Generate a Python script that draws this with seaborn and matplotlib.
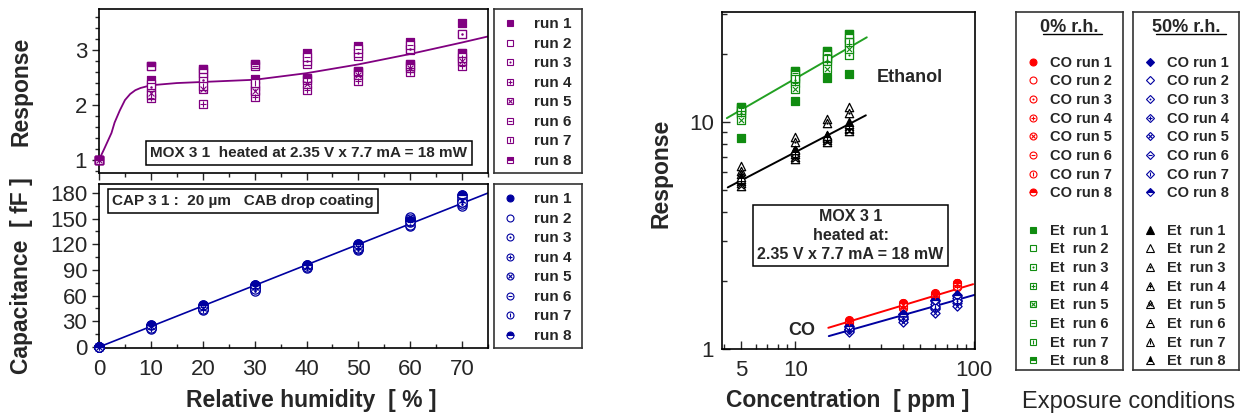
import numpy as np
import pandas as pd
import matplotlib
matplotlib.use('Agg')
import matplotlib.pyplot as plt
import seaborn as sns
from matplotlib.lines import Line2D
from matplotlib.markers import MarkerStyle
from matplotlib.legend_handler import HandlerTuple
from matplotlib.ticker import MultipleLocator, NullFormatter

# ---------------- data ----------------
humidity = [0, 10, 20, 30, 40, 50, 60, 70]
run_labels = ['run 1', 'run 2', 'run 3', 'run 4', 'run 5', 'run 6', 'run 7', 'run 8']

# MOX response vs humidity, one list per run
mox_runs = [
    [1.0, 2.45, 2.62, 2.48, 2.94, 3.07, 3.15, 3.50],
    [1.0, 2.38, 2.50, 2.35, 2.75, 2.90, 3.00, 3.30],
    [1.0, 2.32, 2.45, 2.28, 2.80, 2.95, 3.02, 3.30],
    [1.0, 2.12, 2.02, 2.15, 2.28, 2.44, 2.60, 2.72],
    [1.0, 2.22, 2.30, 2.25, 2.38, 2.55, 2.68, 2.80],
    [1.0, 2.72, 2.58, 2.72, 2.88, 3.02, 3.10, 2.88],
    [1.0, 2.18, 2.35, 2.40, 2.45, 2.60, 2.72, 2.85],
    [1.0, 2.72, 2.65, 2.75, 2.50, 2.62, 2.75, 2.95],
]
mox_fit_x = [0, 1, 2.4, 3, 4, 5, 6, 7, 8, 10, 15, 20, 30, 40, 50, 60, 70, 75]
mox_fit_y = [1.0, 1.2, 1.49, 1.68, 1.9, 2.09, 2.2, 2.27, 2.31, 2.36, 2.40, 2.42, 2.46, 2.58, 2.74, 2.93, 3.14, 3.25]

# capacitance vs humidity
cap_runs = [
    [0, 25, 48, 72, 95, 119, 150, 177],
    [0, 22, 45, 67, 93, 114, 141, 165],
    [0, 23, 44, 66, 94, 113, 143, 167],
    [0, 21, 43, 69, 92, 115, 148, 170],
    [0, 24, 46, 70, 95, 117, 152, 172],
    [0, 25, 47, 71, 96, 118, 146, 174],
    [0, 22, 44, 68, 94, 116, 150, 169],
    [0, 26, 49, 73, 96, 120, 147, 178],
]
cap_fit_x = [0, 75]
cap_fit_y = [0, 180]

# right panel: response vs concentration
et_conc = [5, 10, 15, 20]
co_conc = [20, 40, 60, 80]
et0_runs = [
    [8.5, 12.4, 15.6, 16.2],
    [11.2, 16.0, 19.6, 23.0],
    [11.0, 15.3, 18.8, 19.8],
    [10.8, 14.8, 18.5, 22.0],
    [10.2, 14.0, 17.2, 21.0],
    [11.5, 16.5, 20.0, 23.5],
    [11.3, 15.6, 19.2, 22.5],
    [11.7, 16.7, 20.6, 24.5],
]
et50_runs = [
    [5.5, 7.6, 8.8, 10.0],
    [6.4, 8.6, 10.3, 11.6],
    [6.1, 8.2, 9.9, 11.0],
    [5.4, 7.0, 8.3, 9.3],
    [5.25, 6.9, 8.2, 9.1],
    [5.9, 7.4, 8.6, 9.6],
    [5.6, 7.2, 8.5, 9.4],
    [5.7, 7.5, 8.7, 9.8],
]
co0_runs = [
    [1.34, 1.58, 1.76, 1.96],
    [1.30, 1.52, 1.70, 1.88],
    [1.31, 1.53, 1.71, 1.89],
    [1.32, 1.55, 1.73, 1.91],
    [1.33, 1.56, 1.74, 1.93],
    [1.30, 1.51, 1.70, 1.88],
    [1.31, 1.54, 1.72, 1.90],
    [1.33, 1.59, 1.75, 1.95],
]
co50_runs = [
    [1.25, 1.42, 1.62, 1.72],
    [1.22, 1.38, 1.55, 1.65],
    [1.21, 1.36, 1.52, 1.62],
    [1.20, 1.35, 1.50, 1.60],
    [1.19, 1.32, 1.44, 1.54],
    [1.23, 1.40, 1.58, 1.68],
    [1.22, 1.37, 1.53, 1.63],
    [1.26, 1.43, 1.64, 1.73],
]
et0_fit_x, et0_fit_y = [4.15, 25.1], [10.4, 23.6]
et50_fit_x, et50_fit_y = [4.2, 24.8], [5.15, 10.7]
co0_fit_x, co0_fit_y = [15.3, 98.5], [1.24, 1.93]
co50_fit_x, co50_fit_y = [15.4, 100], [1.14, 1.73]

co_labels = ['CO run %d' % i for i in range(1, 9)]
et_labels = ['Et  run %d' % i for i in range(1, 9)]

# marker variants of the 8 runs: (fill, overlay)
run_styles = [('full', None), ('none', None), ('none', '.'), ('none', '+'),
              ('none', 'x'), ('none', '_'), ('none', '|'), ('top', None)]

purple = '#800080'
navy = '#0000a0'
green = '#108c10'
red = '#ff0000'

sns.set_theme(style='ticks')
plt.rcParams['font.family'] = ['Liberation Sans', 'DejaVu Sans']
plt.rcParams['axes.edgecolor'] = 'black'
plt.rcParams['axes.linewidth'] = 1.2


def draw_run(ax, xs, ys, marker, color, style, s):
    fill, extra = style
    face = color if fill == 'full' else 'white'
    sns.scatterplot(x=xs, y=ys, ax=ax, marker=marker, s=s, facecolor=face, edgecolor=color,
                    linewidth=0.9, zorder=3, clip_on=False, legend=False)
    if fill == 'top':
        sns.scatterplot(x=xs, y=ys, ax=ax, marker=MarkerStyle(marker, fillstyle='top'), s=s,
                        facecolor=color, edgecolor=color, linewidth=0.9, zorder=3,
                        clip_on=False, legend=False)
    if extra == '.':
        sns.scatterplot(x=xs, y=ys, ax=ax, marker='o', s=s * 0.08, facecolor=color,
                        edgecolor=color, linewidth=0, zorder=4, clip_on=False, legend=False)
    elif extra:
        sns.scatterplot(x=xs, y=ys, ax=ax, marker=extra, s=s * 0.45, color=color,
                        linewidth=0.8, zorder=4, clip_on=False, legend=False)


def legend_handle(marker, color, style, ms):
    fill, extra = style
    if fill == 'full':
        base = Line2D([], [], ls='none', marker=marker, ms=ms, mfc=color, mec=color, mew=0.8)
    elif fill == 'top':
        base = Line2D([], [], ls='none', marker=marker, ms=ms, fillstyle='top', mfc=color,
                      mfcalt='white', mec=color, mew=0.8)
    else:
        base = Line2D([], [], ls='none', marker=marker, ms=ms, mfc='white', mec=color, mew=0.8)
    if extra is None:
        return base
    if extra == '.':
        over = Line2D([], [], ls='none', marker='o', ms=ms * 0.3, mfc=color, mec=color, mew=0)
    else:
        over = Line2D([], [], ls='none', marker=extra, ms=ms * 0.65, mec=color, mew=0.8)
    return (base, over)


def box_axes(rect):
    axl = fig.add_axes(rect)
    axl.set_xticks([])
    axl.set_yticks([])
    axl.set_xlim(0, 1)
    axl.set_ylim(0, 1)
    for sp in axl.spines.values():
        sp.set_linewidth(1.2)
        sp.set_color('#333333')
    return axl


fig = plt.figure(figsize=(12.41, 4.15), dpi=100)
bold = dict(fontweight='bold')
box = dict(boxstyle='square,pad=0.3', facecolor='white', edgecolor='black', linewidth=1.1)

# ---------------- left top: MOX response ----------------
ax1 = fig.add_axes([0.0798, 0.5831, 0.3135, 0.3952])
for i in range(8):
    draw_run(ax1, humidity, mox_runs[i], 's', purple, run_styles[i], 40)
sns.lineplot(x=mox_fit_x, y=mox_fit_y, ax=ax1, color=purple, linewidth=1.3, errorbar=None,
             sort=False, zorder=2)
ax1.set_xlim(0, 75)
ax1.set_ylim(0.76, 3.75)
ax1.xaxis.set_major_locator(MultipleLocator(10))
ax1.xaxis.set_minor_locator(MultipleLocator(5))
ax1.yaxis.set_major_locator(MultipleLocator(1))
ax1.yaxis.set_minor_locator(MultipleLocator(0.2))
ax1.tick_params(labelbottom=False)
ax1.tick_params(which='major', length=5, width=1, direction='out', labelsize=16)
ax1.tick_params(which='minor', length=3, width=1, direction='out')
ax1.set_ylabel('Response', fontsize=16.5, **bold)
ax1.yaxis.set_label_coords(-0.17, 0.5)
ax1.text(0.539, 0.122, 'MOX 3 1  heated at 2.35 V x 7.7 mA = 18 mW', transform=ax1.transAxes,
         ha='center', va='center', fontsize=11, bbox=box, **bold)

# ---------------- left bottom: capacitance ----------------
ax2 = fig.add_axes([0.0798, 0.1614, 0.3135, 0.3952])
for i in range(8):
    draw_run(ax2, humidity, cap_runs[i], 'o', navy, run_styles[i], 44)
sns.lineplot(x=cap_fit_x, y=cap_fit_y, ax=ax2, color=navy, linewidth=1.2, errorbar=None, zorder=2)
ax2.set_xlim(0, 75)
ax2.set_ylim(-1.2, 190.5)
ax2.xaxis.set_major_locator(MultipleLocator(10))
ax2.xaxis.set_minor_locator(MultipleLocator(5))
ax2.yaxis.set_major_locator(MultipleLocator(30))
ax2.yaxis.set_minor_locator(MultipleLocator(15))
ax2.tick_params(which='major', length=5, width=1, labelsize=16)
ax2.tick_params(which='minor', length=3, width=1)
ax2.tick_params(axis='x', which='both', direction='in', pad=8)
ax2.tick_params(axis='y', which='both', direction='out')
ax2.set_ylabel('Capacitance  [ fF ]', fontsize=16.5, **bold)
ax2.yaxis.set_label_coords(-0.17, 0.44)
ax2.set_xlabel('Relative humidity  [ % ]', fontsize=16.5, **bold)
ax2.xaxis.set_label_coords(0.546, -0.25)
ax2.text(0.37, 0.896, 'CAP 3 1 :  20 \u00b5m   CAB drop coating', transform=ax2.transAxes,
         ha='center', va='center', fontsize=11, bbox=box, **bold)

# ---------------- left legends ----------------
tuple_map = {tuple: HandlerTuple(ndivide=1, pad=0)}
leg_kw = dict(frameon=False, prop=dict(weight='bold', size=11), handlelength=1.0,
              handletextpad=1.07, labelspacing=0.36, borderpad=0, borderaxespad=0,
              numpoints=1, handler_map=tuple_map, loc='center left')
axl1 = box_axes([0.3981, 0.5831, 0.0709, 0.3952])
axl1.legend([legend_handle('s', purple, st, 5) for st in run_styles], run_labels,
            bbox_to_anchor=(0.095, 0.49), **leg_kw)
axl2 = box_axes([0.3981, 0.1614, 0.0709, 0.3952])
axl2.legend([legend_handle('o', navy, st, 5) for st in run_styles], run_labels,
            bbox_to_anchor=(0.095, 0.49), **leg_kw)

# ---------------- right: response vs concentration ----------------
ax3 = fig.add_axes([0.5818, 0.159, 0.2039, 0.812])
ax3.set_xscale('log')
ax3.set_yscale('log')
for i in range(8):
    draw_run(ax3, et_conc, et0_runs[i], 's', green, run_styles[i], 30)
    draw_run(ax3, et_conc, et50_runs[i], '^', 'black', run_styles[i], 36)
    draw_run(ax3, co_conc, co0_runs[i], 'o', red, run_styles[i], 32)
    draw_run(ax3, co_conc, co50_runs[i], 'D', navy, run_styles[i], 22)
sns.lineplot(x=et0_fit_x, y=et0_fit_y, ax=ax3, color='#22a022', linewidth=1.4, errorbar=None, zorder=2)
sns.lineplot(x=et50_fit_x, y=et50_fit_y, ax=ax3, color='black', linewidth=1.4, errorbar=None, zorder=2)
sns.lineplot(x=co0_fit_x, y=co0_fit_y, ax=ax3, color=red, linewidth=1.4, errorbar=None, zorder=2)
sns.lineplot(x=co50_fit_x, y=co50_fit_y, ax=ax3, color=navy, linewidth=1.4, errorbar=None, zorder=2)
ax3.set_xlim(3.9, 101)
ax3.set_ylim(1, 30.5)
ax3.set_xticks([5, 10, 100], labels=['5', '10', '100'])
ax3.set_yticks([1, 10], labels=['1', '10'])
ax3.xaxis.set_minor_formatter(NullFormatter())
ax3.yaxis.set_minor_formatter(NullFormatter())
ax3.tick_params(which='major', length=6, width=1, direction='in', labelsize=16)
ax3.tick_params(which='minor', length=3.5, width=1, direction='in')
ax3.tick_params(axis='x', which='both', pad=8)
ax3.tick_params(axis='y', which='both', pad=6)
ax3.set_ylabel('Response', fontsize=16.5, **bold)
ax3.yaxis.set_label_coords(-0.194, 0.52)
ax3.set_xlabel('Concentration  [ ppm ]', fontsize=16.5, **bold)
ax3.xaxis.set_label_coords(0.498, -0.119)
ax3.text(0.743, 0.807, 'Ethanol', transform=ax3.transAxes, ha='center', va='center',
         fontsize=13, **bold)
ax3.text(0.316, 0.056, 'CO', transform=ax3.transAxes, ha='center', va='center',
         fontsize=13, **bold)
ax3.text(0.508, 0.337, 'MOX 3 1\nheated at:\n2.35 V x 7.7 mA = 18 mW', transform=ax3.transAxes,
         ha='center', va='center', fontsize=11.5, linespacing=1.3, bbox=box, **bold)

# ---------------- right legends ----------------
blank = Line2D([], [], ls='none')
rleg_kw = dict(frameon=False, prop=dict(weight='bold', size=10.5), handlelength=1.0,
               handletextpad=0.66, labelspacing=0.32, borderpad=0, borderaxespad=0,
               numpoints=1, handler_map=tuple_map, loc='upper left')
axl3 = box_axes([0.8187, 0.1084, 0.0862, 0.8627])
h0 = [legend_handle('o', red, st, 5) for st in run_styles] + [blank] + \
     [legend_handle('s', green, st, 5) for st in run_styles]
axl3.legend(h0, co_labels + [''] + et_labels, bbox_to_anchor=(0.09, 0.878), **rleg_kw)
axl3.text(0.5, 0.958, '0% r.h.', ha='center', va='center', fontsize=13, transform=axl3.transAxes, **bold)
axl3.plot([0.25, 0.80], [0.938, 0.938], color='black', linewidth=1, transform=axl3.transAxes)

axl4 = box_axes([0.9130, 0.1084, 0.0854, 0.8627])
h50 = [legend_handle('D', navy, st, 4.5) for st in run_styles] + [blank] + \
      [legend_handle('^', 'black', st, 5.5) for st in run_styles]
axl4.legend(h50, co_labels + [''] + et_labels, bbox_to_anchor=(0.09, 0.878), **rleg_kw)
axl4.text(0.5, 0.958, '50% r.h.', ha='center', va='center', fontsize=13, transform=axl4.transAxes, **bold)
axl4.plot([0.22, 0.88], [0.938, 0.938], color='black', linewidth=1, transform=axl4.transAxes)

fig.text(0.909, 0.031, 'Exposure conditions', ha='center', va='center', fontsize=17)

fig.savefig('out.png', dpi=100)
